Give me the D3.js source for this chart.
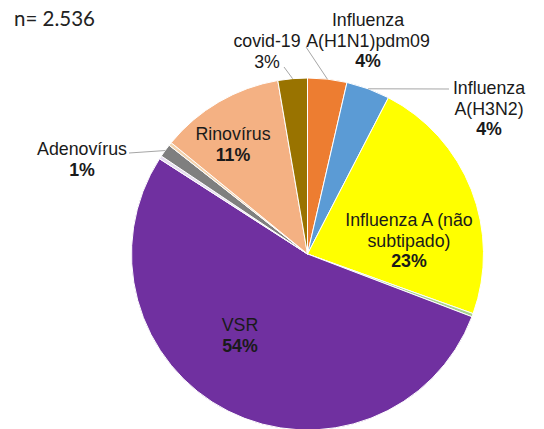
<!DOCTYPE html>
<html>
<head>
<meta charset="utf-8">
<script src="https://cdn.jsdelivr.net/npm/d3@7/dist/d3.min.js"></script>
<style>
  html, body { margin: 0; padding: 0; background: #fff; }
  svg { display: block; }
</style>
</head>
<body>
<svg id="chart" width="544" height="429"></svg>
<script>
// ---- data ----
const categories = ["Influenza A(H1N1)pdm09", "Influenza A(H3N2)", "Influenza A (não subtipado)", "Outro 1", "VSR", "Outro 2", "Adenovírus", "Outro 3", "Rinovírus", "covid-19"];
const values = [3.6, 4.0, 22.9, 0.3, 53.3, 0.3, 1.2, 0.3, 11.4, 2.7];
const percentLabels = ["4%", "4%", "23%", "", "54%", "", "1%", "", "11%", "3%"];
const colors = ["#ED7D31", "#5B9BD5", "#FFFF00", "#A9D18E", "#7030A0", "#E6DDF0", "#7F7F7F", "#F2D3AE", "#F4B183", "#997300"];
const sampleText = "n= 2.536";

// ---- layout ----
const W = 544, H = 429;
const cx = 307.5, cy = 254, R = 176;
const labelLayout = {
  0: { lines: ["Influenza", "A(H1N1)pdm09"], x: 368, y: 20, bold: true, leader: [306, 47] },
  1: { lines: ["Influenza", "A(H3N2)"], x: 489, y: 88, bold: true, leader: [449, 89] },
  2: { lines: ["Influenza A (não", "subtipado)"], x: 409, y: 220, bold: true },
  4: { lines: ["VSR"], x: 240, y: 325, bold: true },
  6: { lines: ["Adenovírus"], x: 82, y: 149, bold: true, leader: [129, 153] },
  8: { lines: ["Rinovírus"], x: 233, y: 134, bold: true },
  9: { lines: ["covid-19"], x: 267, y: 41, bold: false, leader: [284, 67] }
};
const lineH = 20.5;

const svg = d3.select("#chart");

const pie = d3.pie().sort(null).value(d => d)(values);
const arc = d3.arc().innerRadius(0).outerRadius(R);
const edge = d3.arc().innerRadius(R).outerRadius(R);

const g = svg.append("g").attr("transform", `translate(${cx},${cy})`);
g.selectAll("path.slice")
  .data(pie)
  .enter().append("path")
  .attr("class", "slice")
  .attr("d", arc)
  .attr("fill", (d, i) => colors[i])
  .attr("stroke", "#ffffff")
  .attr("stroke-width", 1);

// leader lines
Object.keys(labelLayout).forEach(k => {
  const i = +k;
  const L = labelLayout[i];
  if (!L.leader) return;
  const p = edge.centroid(pie[i]);
  svg.append("line")
    .attr("x1", cx + p[0]).attr("y1", cy + p[1])
    .attr("x2", L.leader[0]).attr("y2", L.leader[1])
    .attr("stroke", "#A6A6A6").attr("stroke-width", 1);
});

// labels
Object.keys(labelLayout).forEach(k => {
  const i = +k;
  const L = labelLayout[i];
  const t = svg.append("text")
    .attr("text-anchor", "middle")
    .attr("font-family", "'Liberation Sans', Arial, sans-serif")
    .attr("font-size", 17.8)
    .attr("fill", "#1a1a1a");
  L.lines.forEach((ln, j) => {
    t.append("tspan").attr("x", L.x).attr("y", L.y + j * lineH).attr("dy", "0.35em").text(ln);
  });
  t.append("tspan").attr("x", L.x).attr("y", L.y + L.lines.length * lineH).attr("dy", "0.35em")
    .attr("font-weight", L.bold ? "bold" : "normal")
    .text(percentLabels[i]);
});

svg.append("text")
  .attr("x", 14).attr("y", 26)
  .attr("font-family", "Lato, 'Open Sans', sans-serif")
  .attr("font-size", 20.5)
  .attr("fill", "#222")
  .text(sampleText);
</script>
</body>
</html>
